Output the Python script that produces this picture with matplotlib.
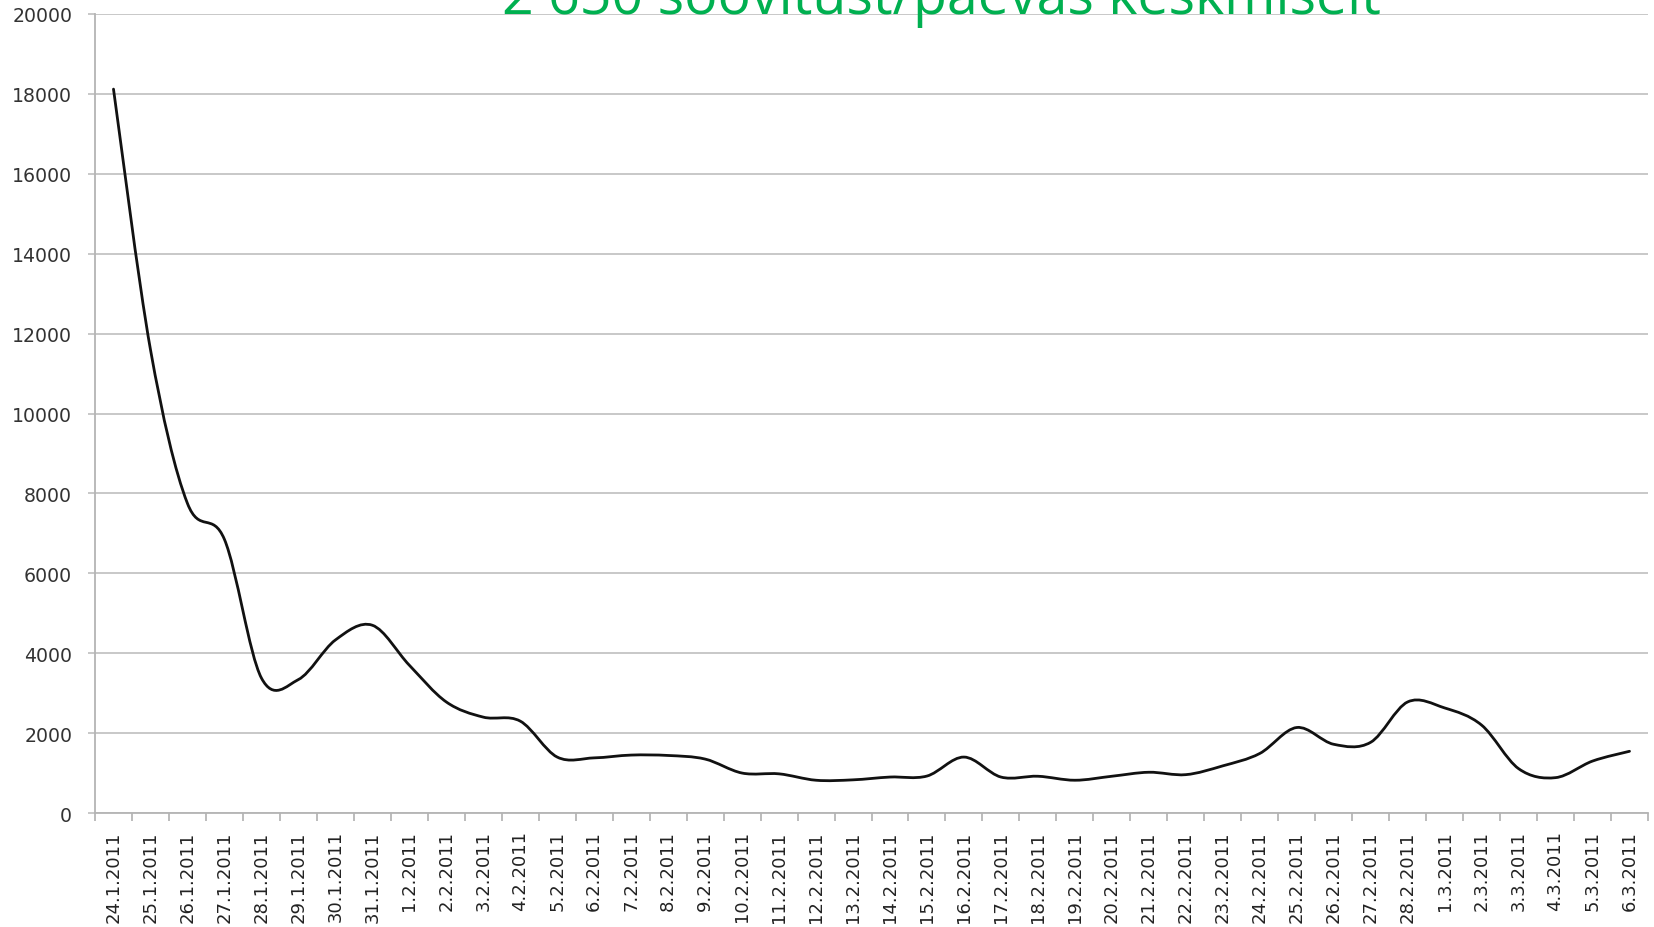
import numpy as np
import matplotlib.pyplot as plt
from matplotlib.path import Path
from matplotlib.patches import PathPatch

# kuupäevad (24.1.2011 ... 6.3.2011)
kuupaevad = ['24.1.2011', '25.1.2011', '26.1.2011', '27.1.2011', '28.1.2011', '29.1.2011',
             '30.1.2011', '31.1.2011', '1.2.2011', '2.2.2011', '3.2.2011', '4.2.2011',
             '5.2.2011', '6.2.2011', '7.2.2011', '8.2.2011', '9.2.2011', '10.2.2011',
             '11.2.2011', '12.2.2011', '13.2.2011', '14.2.2011', '15.2.2011', '16.2.2011',
             '17.2.2011', '18.2.2011', '19.2.2011', '20.2.2011', '21.2.2011', '22.2.2011',
             '23.2.2011', '24.2.2011', '25.2.2011', '26.2.2011', '27.2.2011', '28.2.2011',
             '1.3.2011', '2.3.2011', '3.3.2011', '4.3.2011', '5.3.2011', '6.3.2011']

soovitused = [18120, 11600, 7750, 6850, 3380, 3340, 4330, 4700, 3700, 2780, 2400, 2300,
              1400, 1380, 1450, 1440, 1350, 1000, 980, 820, 830, 900, 925, 1400,
              900, 920, 820, 920, 1020, 960, 1180, 1490, 2140, 1720, 1770, 2780,
              2630, 2200, 1110, 885, 1300, 1545]

pealkiri = '2 650 soovitust/päevas keskmiselt'

fig = plt.figure(figsize=(16.54, 9.28), dpi=100)
ax = fig.add_axes([95 / 1654, 1 - 814 / 928, (1648 - 95) / 1654, (814 - 15) / 928])

# silutud joon (Exceli stiilis Bezier kõverad läbi andmepunktide)
x = np.arange(len(soovitused), dtype=float)
y = np.array(soovitused, dtype=float)
pts = np.column_stack([x, y])
verts = [pts[0]]
codes = [Path.MOVETO]
n = len(pts)
for i in range(n - 1):
    p0 = pts[i - 1] if i > 0 else pts[i]
    p1 = pts[i]
    p2 = pts[i + 1]
    p3 = pts[i + 2] if i + 2 < n else pts[i + 1]
    verts += [p1 + (p2 - p0) / 6, p2 - (p3 - p1) / 6, p2]
    codes += [Path.CURVE4] * 3
ax.add_patch(PathPatch(Path(verts, codes), fill=False, edgecolor='#111111', lw=2.0,
                       capstyle='round', joinstyle='round', zorder=3))

ax.set_xlim(-0.5, n - 0.5)
ax.set_ylim(0, 20000)
ax.set_yticks(np.arange(0, 20001, 2000))
ax.yaxis.grid(True, color='#c4c4c4', lw=1.3)
ax.set_axisbelow(True)

ax.set_xticks(x)
ax.set_xticklabels(kuupaevad, rotation=90, fontsize=13, color='#222222')
ax.set_xticks(np.arange(-0.5, n), minor=True)
ax.tick_params(axis='x', which='major', length=0, pad=12.5)
ax.tick_params(axis='x', which='minor', length=5.4, width=1.2, color='#b0b0b0')
ax.tick_params(axis='y', length=5.4, width=1.3, color='#c4c4c4', pad=11,
               labelsize=13.6, labelcolor='#333333')

for s in ['top', 'right']:
    ax.spines[s].set_visible(False)
for s in ['left', 'bottom']:
    ax.spines[s].set_color('#b4b4b4')
    ax.spines[s].set_linewidth(1.3)

fig.text(941 / 1654, 1 - 14 / 928, pealkiri, color='#00b050', fontsize=40,
         family='Open Sans', ha='center', va='baseline')

fig.savefig('out.png', dpi=100)
